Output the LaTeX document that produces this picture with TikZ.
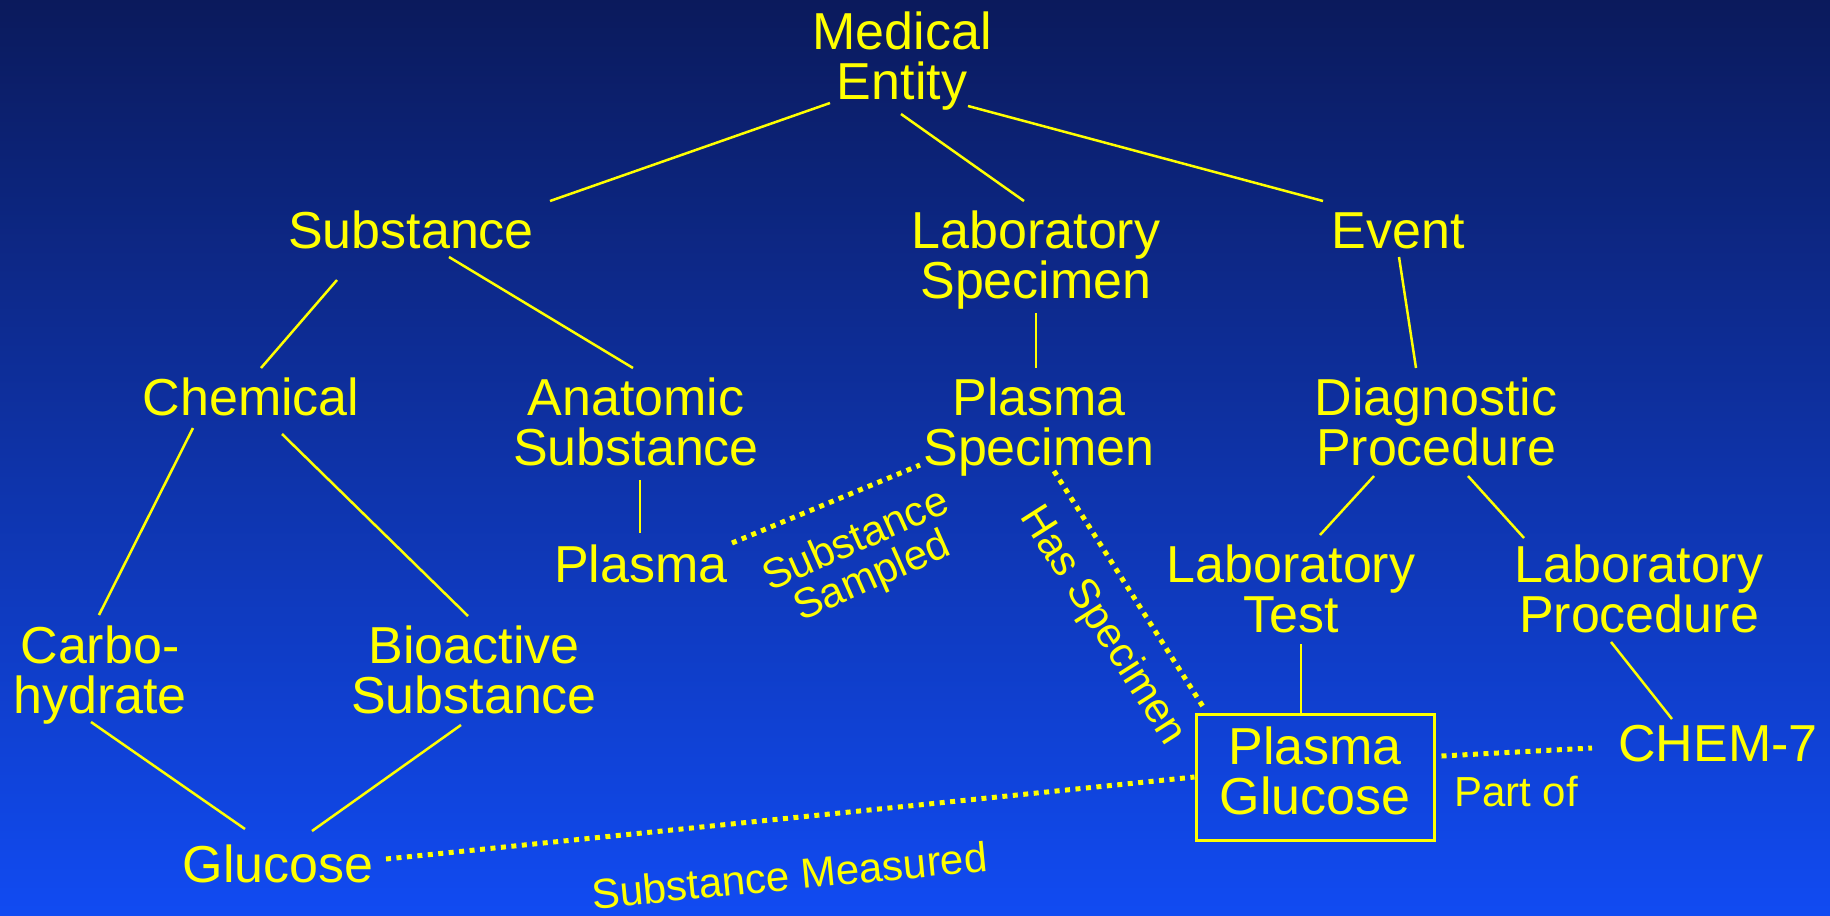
\documentclass[tikz,border=0pt]{standalone}
\usepackage{fontspec}
\setmainfont{Liberation Sans}
\definecolor{bgtop}{HTML}{0B1A5C}
\definecolor{bgmid}{HTML}{0E36B4}
\definecolor{bgbot}{HTML}{114BF2}
\definecolor{ylw}{HTML}{FFFF00}
\begin{document}
\begin{tikzpicture}[x=1pt,y=-1pt,
  lbl/.style={text=ylw, font=\fontsize{52}{50}\selectfont, align=center, inner sep=0pt, anchor=base},
  rel/.style={text=ylw, font=\fontsize{42}{40}\selectfont, align=center, inner sep=0pt},
  link/.style={draw=ylw, line width=2.5pt},
  dotlink/.style={draw=ylw, line width=5pt, dash pattern=on 5pt off 5.5pt}]
\shade[top color=bgtop, middle color=bgmid, bottom color=bgbot] (0,0) rectangle (1830,915);
\useasboundingbox (0,0) rectangle (1830,915);

% concept nodes (anchored at the baseline of their last line)
\node[lbl] (me) at (902,100) {Medical\\Entity};
\node[lbl] (sub) at (411,248) {Substance};
\node[lbl] (labspec) at (1036,298) {Laboratory\\Specimen};
\node[lbl] (event) at (1398,248) {Event};
\node[lbl] (chem) at (251,415) {Chemical};
\node[lbl] (anat) at (636,465) {Anatomic\\Substance};
\node[lbl] (pspec) at (1039,465) {Plasma\\Specimen};
\node[lbl] (diag) at (1436,465) {Diagnostic\\Procedure};
\node[lbl] (plasma) at (641,582) {Plasma};
\node[lbl] (labtest) at (1291,632) {Laboratory\\Test};
\node[lbl] (labproc) at (1639,632) {Laboratory\\Procedure};
\node[lbl] (carbo) at (100,713) {Carbo-\\hydrate};
\node[lbl] (bio) at (474,713) {Bioactive\\Substance};
\node[lbl] (glucose) at (278,882) {Glucose};
\node[lbl, anchor=center, draw=ylw, line width=3pt, minimum width=238pt, minimum height=126pt,
      text height=88pt, text depth=13pt] (pg) at (1315,777) {Plasma\\Glucose};
\node[lbl] (chem7) at (1718,761) {CHEM-7};

% relation labels
\node[rel, anchor=base] (partof) at (1516,806) {Part of};
\node[rel, anchor=base, rotate=24] (sampled) at (877,588) {Substance\\Sampled};
\node[rel, anchor=center, rotate=-57.5] (hasspec) at (1102,626) {Has Specimen};
\node[rel, anchor=base, rotate=5.5] (measured) at (791,890) {Substance Measured};

% hierarchy links
\draw[link] ([shift={(-72,3)}]me.base) -- ([shift={(139,-47)}]sub.base);
\draw[link] ([shift={(-1,14)}]me.base) -- ([shift={(-12,-97)}]labspec.base);
\draw[link] ([shift={(66,6)}]me.base) -- ([shift={(-75,-47)}]event.base);
\draw[link] ([shift={(-74,32)}]sub.base) -- ([shift={(10,-47)}]chem.base);
\draw[link] ([shift={(38,9)}]sub.base) -- ([shift={(-3,-97)}]anat.base);
\draw[link] ([shift={(0,15)}]labspec.base) -- ([shift={(-3,-97)}]pspec.base);
\draw[link] ([shift={(1,9)}]event.base) -- ([shift={(-20,-97)}]diag.base);
\draw[link] ([shift={(-58,13)}]chem.base) -- ([shift={(-1,-98)}]carbo.base);
\draw[link] ([shift={(31,19)}]chem.base) -- ([shift={(-6,-97)}]bio.base);
\draw[link] ([shift={(4,15)}]anat.base) -- ([shift={(-1,-49)}]plasma.base);
\draw[link] ([shift={(-62,11)}]diag.base) -- ([shift={(29,-97)}]labtest.base);
\draw[link] ([shift={(32,11)}]diag.base) -- ([shift={(-115,-94)}]labproc.base);
\draw[link] ([shift={(-9,9)}]carbo.base) -- ([shift={(-33,-53)}]glucose.base);
\draw[link] ([shift={(-13,12)}]bio.base) -- ([shift={(34,-51)}]glucose.base);
\draw[link] ([shift={(10,12)}]labtest.base) -- ([xshift=-14pt]pg.north);
\draw[link] ([shift={(-28,10)}]labproc.base) -- ([shift={(-46,-42)}]chem7.base);

% relation links
\draw[dotlink] ([shift={(91,-39)}]plasma.base) -- ([shift={(-119,0)}]pspec.base);
\draw[dotlink] ([shift={(15,6)}]pspec.base) -- ([shift={(9,-5)}]pg.north west);
\draw[dotlink] ([shift={(108,-23)}]glucose.base) -- (pg.west);
\draw[dotlink] ([shift={(6,-21)}]pg.east) -- ([shift={(-126,-13)}]chem7.base);
\end{tikzpicture}
\end{document}
